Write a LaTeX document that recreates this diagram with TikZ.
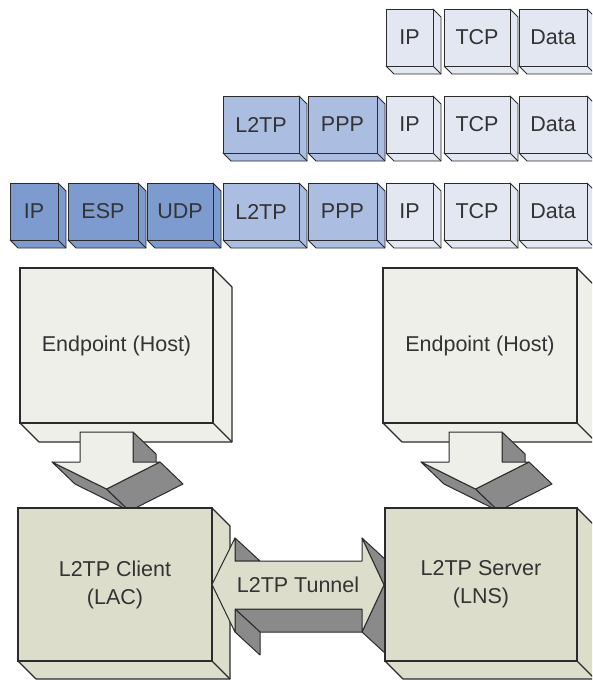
\documentclass[tikz,border=0pt]{standalone}
\usepackage{fontspec}
\setmainfont{Liberation Sans}
\definecolor{edge}{HTML}{2B2B2B}
\definecolor{txt}{HTML}{333333}
\definecolor{pdark}{HTML}{7E9BD0}
\definecolor{pmid}{HTML}{ABBEE1}
\definecolor{plight}{HTML}{E2E7F2}
\definecolor{hostc}{HTML}{EFEFE9}
\definecolor{lacc}{HTML}{DCDECB}
\definecolor{shade}{HTML}{8A8A8A}
\newcommand\cubebox[9]{% name,x0,y0,x1,y1,d,color,text,linewidth
  \filldraw[draw=edge,line width=#9,line join=round,fill=#7]
    (#4,#3) -- ++(#6,#6) -- (#4+#6,#5+#6) -- (#2+#6,#5+#6) -- (#2,#5) -- (#4,#5) -- cycle;
  \draw[draw=edge,line width=#9] (#4,#5) -- ++(#6,#6);
  \node[frontface,line width=#9,fill=#7,minimum width={(#4-#2)*1pt},minimum height={(#5-#3)*1pt}] (#1) at (#2,#3) {#8};
}
\newcommand\downarrowthreed[1]{%
  \begin{scope}[xshift=#1]
    \filldraw[facet] (133,432) -- (156,454) -- (156,484) -- (133,462) -- cycle;
    \filldraw[facet] (52,462) -- (106.5,489) -- (129.5,511) -- (75,484) -- cycle;
    \filldraw[facet] (160,462) -- (183,484) -- (129.5,511) -- (106.5,489) -- cycle;
    \filldraw[arrowface,fill=hostc] (80,432) -- (133,432) -- (133,462) -- (160,462) -- (106.5,489) -- (52,462) -- (80,462) -- cycle;
  \end{scope}
}
\begin{document}
\begin{tikzpicture}[x=1pt,y=-1pt,
  frontface/.style={draw=edge,anchor=north west,outer sep=0pt,inner sep=0pt,align=center,text=txt,font=\fontsize{21.5}{28}\selectfont},
  facet/.style={draw=edge,line width=1pt,line join=round,fill=shade},
  arrowface/.style={draw=edge,line width=1pt,line join=round},
  lbl/.style={text=txt,font=\fontsize{21.5}{28}\selectfont,inner sep=0pt}]
\useasboundingbox (0,0) rectangle (592,680);
\clip (0,0) rectangle (592,680);
% packet rows
\foreach \nm/\a/\b/\t in {r1c6/386/433/IP, r1c7/444/510/TCP, r1c8/519/587/Data}
  {\cubebox{\nm}{\a}{9}{\b}{66}{8}{plight}{\t}{0.9pt}}
\foreach \nm/\a/\b/\t/\c in {r2c4/223/299/L2TP/pmid, r2c5/308/377/PPP/pmid, r2c6/386/433/IP/plight, r2c7/444/510/TCP/plight, r2c8/519/587/Data/plight}
  {\cubebox{\nm}{\a}{96}{\b}{153}{8}{\c}{\t}{0.9pt}}
\foreach \nm/\a/\b/\t/\c in {r3c1/10/58/IP/pdark, r3c2/68/138/ESP/pdark, r3c3/147/213/UDP/pdark, r3c4/223/299/L2TP/pmid, r3c5/308/377/PPP/pmid, r3c6/386/433/IP/plight, r3c7/444/510/TCP/plight, r3c8/519/587/Data/plight}
  {\cubebox{\nm}{\a}{183}{\b}{240}{8}{\c}{\t}{0.9pt}}
% endpoints
\cubebox{hostA}{20}{268}{213}{423}{19}{hostc}{Endpoint (Host)}{1.1pt}
\cubebox{hostB}{383}{268}{577}{423}{19}{hostc}{Endpoint (Host)}{1.1pt}
% down arrows
\downarrowthreed{0pt}
\downarrowthreed{369pt}
% L2TP client
\cubebox{client}{18}{508}{212}{661}{18}{lacc}{L2TP Client\\(LAC)}{1.1pt}
% tunnel arrow
\filldraw[facet] (235,538) -- (260,561) -- (235,561) -- cycle;
\filldraw[facet] (235,609) -- (362,609) -- (387,632) -- (260,632) -- cycle;
\filldraw[facet] (235,609) -- (260,632) -- (260,655) -- (235,632) -- cycle;
\filldraw[facet] (362,538) -- (384,585) -- (409,608) -- (387,561) -- cycle;
\filldraw[facet] (384,585) -- (362,632) -- (387,655) -- (409,608) -- cycle;
\filldraw[arrowface,fill=lacc] (client.east) -- (235,538) -- (235,561) -- (362,561) -- (362,538) -- (384,585) -- (362,632) -- (362,609) -- (235,609) -- (235,632) -- cycle;
\node[lbl] (tunnel) at (298,585) {L2TP Tunnel};
% L2TP server
\cubebox{server}{385}{508}{577}{661}{18}{lacc}{L2TP Server\\(LNS)}{1.1pt}
\end{tikzpicture}
\end{document}
